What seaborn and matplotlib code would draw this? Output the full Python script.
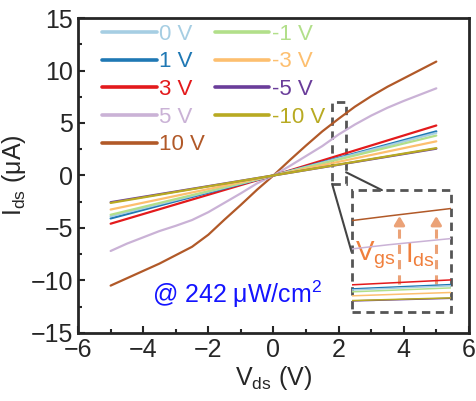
import matplotlib
matplotlib.use("Agg")
import matplotlib.pyplot as plt
import matplotlib.patches as mpatches
from matplotlib.ticker import MultipleLocator
import numpy as np
import pandas as pd
import seaborn as sns

sns.set_style("ticks")
plt.rcParams["font.family"] = ["Liberation Sans", "DejaVu Sans"]
plt.rcParams["mathtext.default"] = "regular"

# gate voltages and their I-V curves
labels = ["0 V", "1 V", "3 V", "5 V", "10 V", "-1 V", "-3 V", "-5 V", "-10 V"]
colors = ["#a6cee3", "#1f78b4", "#e31a1c", "#cab2d6", "#b15928",
          "#b2df8a", "#fdbf6f", "#6a3d9a", "#b8aa22"]

vds_lin = [-5, 0, 5]
ids_0 = [-3.9, 0, 4.05]
ids_1 = [-4.1, 0, 4.2]
ids_3 = [-4.6, 0, 4.76]
ids_m1 = [-3.75, 0, 3.8]
ids_m3 = [-3.25, 0, 3.25]
ids_m5 = [-2.55, 0, 2.55]
ids_m10 = [-2.62, 0, 2.6]

vds_half = [-5, -4.5, -4, -3.5, -3, -2.5, -2, -1.5, -1, -0.5, 0,
            0.5, 1, 1.5, 2, 2.5, 3, 3.5, 4, 4.5, 5]
ids_5 = [-7.2, -6.5, -5.9, -5.3, -4.8, -4.25, -3.5, -2.6, -1.7, -0.75, 0,
         0.9, 1.85, 2.8, 3.9, 4.85, 5.7, 6.45, 7.1, 7.7, 8.3]
ids_10 = [-10.5, -9.8, -9.1, -8.4, -7.6, -6.8, -5.65, -4.2, -2.8, -1.35, 0,
          1.45, 2.85, 4.2, 5.4, 6.55, 7.55, 8.45, 9.25, 10.05, 10.85]

curves = {
    "0 V": (vds_lin, ids_0), "1 V": (vds_lin, ids_1), "3 V": (vds_lin, ids_3),
    "5 V": (vds_half, ids_5), "10 V": (vds_half, ids_10),
    "-1 V": (vds_lin, ids_m1), "-3 V": (vds_lin, ids_m3),
    "-5 V": (vds_lin, ids_m5), "-10 V": (vds_lin, ids_m10),
}

rows = []
for lab in labels:
    xs, ys = curves[lab]
    for x, y in zip(xs, ys):
        rows.append({"Vds": x, "Ids": y, "Vgs": lab})
df = pd.DataFrame(rows)
palette = dict(zip(labels, colors))

fig = plt.figure(figsize=(4.76, 4.01), dpi=100)
ax = fig.add_axes([0.164, 0.170, 0.821, 0.785])

# draw so that the low-current ones end up on top like the original
draw_order = ["10 V", "5 V", "3 V", "1 V", "0 V", "-1 V", "-3 V", "-5 V", "-10 V"]
for lab in draw_order:
    sns.lineplot(data=df[df["Vgs"] == lab], x="Vds", y="Ids", ax=ax,
                 color=palette[lab], linewidth=1.6, legend=False)

ax.set_xlim(-6, 6)
ax.set_ylim(-15, 15)
ax.xaxis.set_major_locator(MultipleLocator(2))
ax.xaxis.set_minor_locator(MultipleLocator(1))
ax.yaxis.set_major_locator(MultipleLocator(5))
ax.yaxis.set_minor_locator(MultipleLocator(2.5))
ax.tick_params(which="both", direction="in", labelsize=18, width=1.5)
ax.tick_params(which="major", length=5)
ax.tick_params(which="minor", length=3)
for s in ax.spines.values():
    s.set_linewidth(2)
ax.set_xlabel("V$_{ds}$ (V)", fontsize=18, labelpad=2)
ax.set_ylabel("I$_{ds}$ (\u03bcA)", fontsize=18, labelpad=2)

# legend
handles = [plt.Line2D([], [], color=palette[l], lw=2.6) for l in labels]
ax.legend(handles, labels, ncol=2, loc="upper left", frameon=False,
          bbox_to_anchor=(0.062, 0.982), fontsize=16, labelcolor="linecolor",
          handlelength=2.45, handletextpad=0.1, columnspacing=0.45,
          labelspacing=0.3, borderpad=0, borderaxespad=0)

ax.text(-1.1, -11.3, "@ 242 \u03bcW/cm$^2$", color="#1414ff", fontsize=18,
        ha="center", va="center")

# zoom box and connectors
gray = "#555555"
ax.add_patch(mpatches.Rectangle((1.8, -0.8), 0.43, 7.8, fill=False,
                                edgecolor=gray, lw=2, ls=(0, (3, 2))))
ax.add_patch(mpatches.Rectangle((2.4, -13.0), 3.05, 11.6, fill=False,
                                edgecolor=gray, lw=2, ls=(0, (3, 2)), zorder=5))
ax.plot([2.23, 3.33], [0.3, -1.4], color="#444444", lw=1.5)
ax.plot([1.8, 2.4], [-0.8, -7.3], color="#444444", lw=1.5)

# magnified view
ins = ax.inset_axes([2.4, -13.0, 3.05, 11.6], transform=ax.transData)
for lab in draw_order:
    sns.lineplot(data=df[df["Vgs"] == lab], x="Vds", y="Ids", ax=ins,
                 color=palette[lab], linewidth=1.1, legend=False)
ins.set_xlim(1.9, 2.17)
ins.set_ylim(0.4, 6.75)
ins.axis("off")

# arrows and labels inside the zoom box
orange = "#eba277"
for xa in [3.87, 5.0]:
    ax.plot([xa, xa], [-10.3, -4.6], color=orange, lw=2.2, ls=(0, (3, 2)))
    ax.annotate("", xy=(xa, -3.6), xytext=(xa, -4.7),
                arrowprops=dict(arrowstyle="-|>,head_width=0.3,head_length=0.5",
                                color=orange, lw=2.2))
ax.text(2.5, -7.6, "V$_{gs}$", color="#f07f3c", fontsize=20, va="center")
ax.text(4.05, -7.6, "I$_{ds}$", color="#f07f3c", fontsize=20, va="center")

fig.savefig("out.png", dpi=100)
